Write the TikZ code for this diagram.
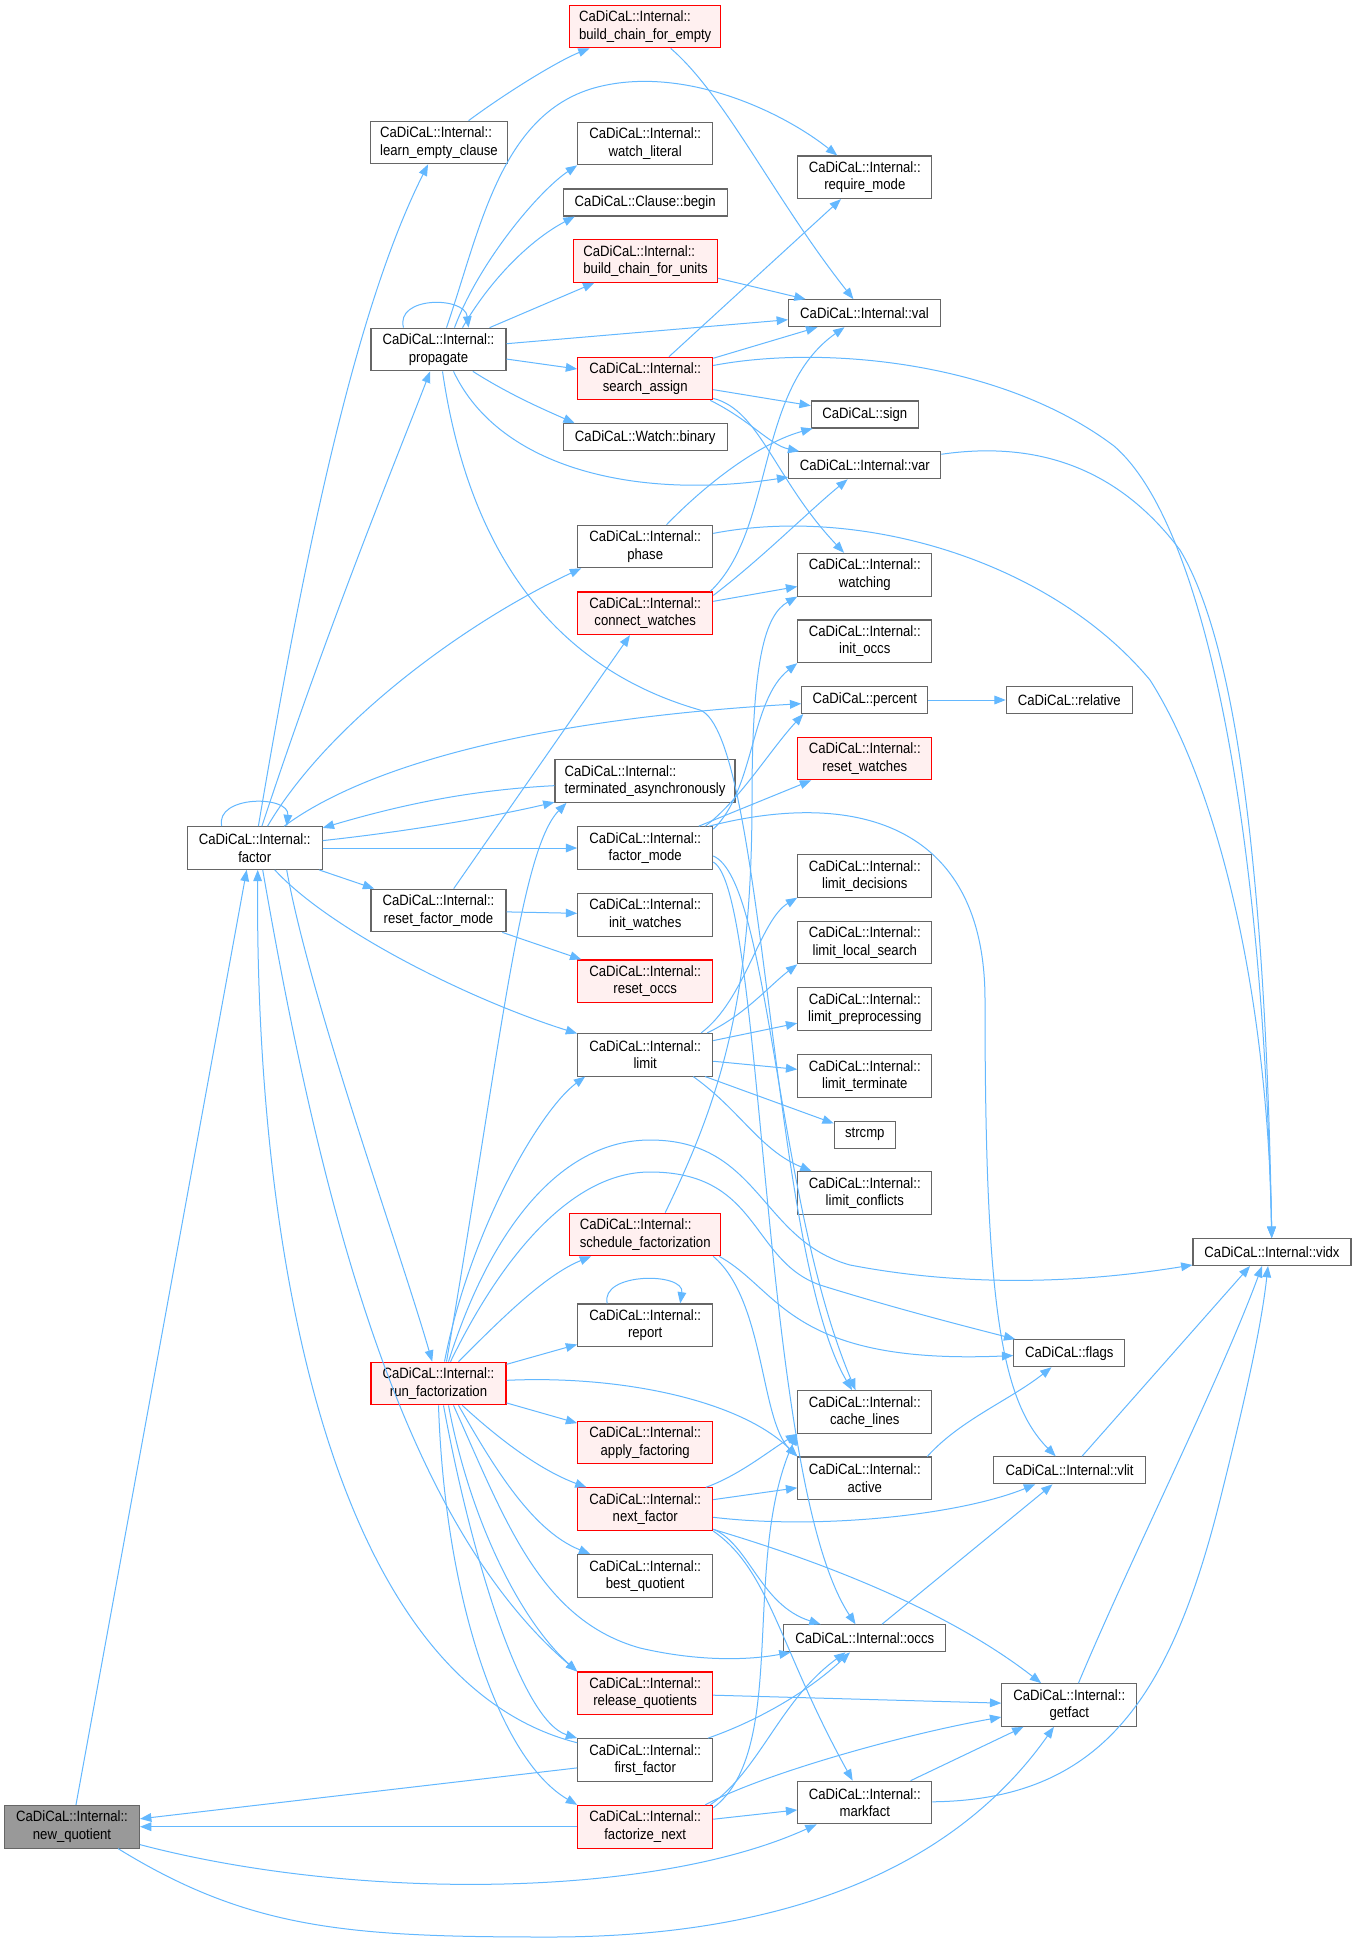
\documentclass[tikz,border=0pt]{standalone}
\usepackage{fontspec}
\setmainfont{Liberation Sans}[FakeStretch=0.88]
\usetikzlibrary{arrows.meta,calc}
\definecolor{edgec}{HTML}{63B8FF}
\definecolor{boxb}{HTML}{666666}
\definecolor{redb}{HTML}{FF0000}
\definecolor{redf}{HTML}{FFF0F0}
\definecolor{greyf}{HTML}{999999}
\tikzset{
  nd/.style={draw=boxb, fill=white, line width=0.8pt, inner sep=0pt, align=center,
    font=\fontsize{11.2}{13}\selectfont, minimum height=32pt},
  one/.style={minimum height=20.25pt},
  rd/.style={draw=redb, fill=redf},
  gy/.style={fill=greyf},
  lft/.style={align=left},
  wd/.style={minimum width=#1*0.75pt},
  ed/.style={draw=edgec, line width=0.75pt, -{Triangle[length=8.5pt,width=6.5pt]}}
}
\begin{document}
\begin{tikzpicture}[x=0.75pt,y=-0.75pt]
\fill[white] (0,0) rectangle (1357,1941);
\useasboundingbox (0,0) rectangle (1357,1941);
% column 1/2
\node[nd,gy,wd=135] (nq) at (72,1826.7) {CaDiCaL::Internal::\\new\_quotient};
\node[nd,wd=135] (fac) at (254.7,848) {CaDiCaL::Internal::\\factor};
\node[nd,lft,wd=137] (lec) at (439,142.5) {CaDiCaL::Internal::\\learn\_empty\_clause};
\node[nd,wd=135] (prop) at (438.5,349.5) {CaDiCaL::Internal::\\propagate};
\node[nd,wd=135] (rfm) at (438.5,910.5) {CaDiCaL::Internal::\\reset\_factor\_mode};
\node[nd,rd,wd=135] (rf) at (438.5,1383.5) {CaDiCaL::Internal::\\run\_factorization};
% column 3
\node[nd,rd,lft,wd=151] (bce) at (645.2,26.5) {CaDiCaL::Internal::\\build\_chain\_for\_empty};
\node[nd,wd=135] (wl) at (645.2,143.5) {CaDiCaL::Internal::\\watch\_literal};
\node[nd,one,wd=164] (cb) at (645.2,202.5) {CaDiCaL::Clause::begin};
\node[nd,rd,lft,wd=144] (bcu) at (645.5,261) {CaDiCaL::Internal::\\build\_chain\_for\_units};
\node[nd,rd,wd=135] (sa) at (645.2,378.5) {CaDiCaL::Internal::\\search\_assign};
\node[nd,one,wd=164] (wb) at (645.2,437.2) {CaDiCaL::Watch::binary};
\node[nd,wd=135] (ph) at (645.2,546.5) {CaDiCaL::Internal::\\phase};
\node[nd,rd,wd=135] (cw) at (645.2,613.3) {CaDiCaL::Internal::\\connect\_watches};
\node[nd,lft,wd=180] (ta) at (645,781) {CaDiCaL::Internal::\\terminated\_asynchronously};
\node[nd,wd=135] (fm) at (645.2,848) {CaDiCaL::Internal::\\factor\_mode};
\node[nd,wd=135] (iw) at (645.2,914.7) {CaDiCaL::Internal::\\init\_watches};
\node[nd,rd,wd=135] (ro) at (645.2,981.3) {CaDiCaL::Internal::\\reset\_occs};
\node[nd,wd=135] (lim) at (645.2,1054.7) {CaDiCaL::Internal::\\limit};
\node[nd,rd,lft,wd=151] (sf) at (645.2,1234.5) {CaDiCaL::Internal::\\schedule\_factorization};
\node[nd,wd=135] (rep) at (645.2,1325.3) {CaDiCaL::Internal::\\report};
\node[nd,rd,wd=135] (af) at (645.2,1442.5) {CaDiCaL::Internal::\\apply\_factoring};
\node[nd,rd,wd=135] (nf) at (645.2,1509.2) {CaDiCaL::Internal::\\next\_factor};
\node[nd,wd=135] (bq) at (645.2,1575.8) {CaDiCaL::Internal::\\best\_quotient};
\node[nd,rd,wd=135] (rq) at (645.2,1693.3) {CaDiCaL::Internal::\\release\_quotients};
\node[nd,wd=135] (ff) at (645.2,1760) {CaDiCaL::Internal::\\first\_factor};
\node[nd,rd,wd=135] (fn) at (645.2,1826.7) {CaDiCaL::Internal::\\factorize\_next};
% column 4
\node[nd,wd=134] (rm) at (864.8,177.3) {CaDiCaL::Internal::\\require\_mode};
\node[nd,one,wd=152] (val) at (864.5,313.2) {CaDiCaL::Internal::val};
\node[nd,one,wd=107] (sign) at (864.8,414.5) {CaDiCaL::sign};
\node[nd,one,wd=152] (var) at (864.8,465.3) {CaDiCaL::Internal::var};
\node[nd,wd=134] (wat) at (864.8,574.7) {CaDiCaL::Internal::\\watching};
\node[nd,wd=134] (io) at (864.8,641.3) {CaDiCaL::Internal::\\init\_occs};
\node[nd,one,wd=126] (pct) at (864.8,700) {CaDiCaL::percent};
\node[nd,rd,wd=134] (rw) at (864.8,758.5) {CaDiCaL::Internal::\\reset\_watches};
\node[nd,wd=134] (ld) at (864.8,875.8) {CaDiCaL::Internal::\\limit\_decisions};
\node[nd,wd=134] (lls) at (864.8,942.5) {CaDiCaL::Internal::\\limit\_local\_search};
\node[nd,wd=134] (lp) at (864.8,1009.2) {CaDiCaL::Internal::\\limit\_preprocessing};
\node[nd,wd=134] (lt) at (864.8,1075.8) {CaDiCaL::Internal::\\limit\_terminate};
\node[nd,one,wd=61] (sc) at (864.8,1134.7) {strcmp};
\node[nd,wd=134] (lc) at (864.8,1193) {CaDiCaL::Internal::\\limit\_conflicts};
\node[nd,wd=134] (cl) at (864.8,1412) {CaDiCaL::Internal::\\cache\_lines};
\node[nd,wd=134] (act) at (864.8,1478.3) {CaDiCaL::Internal::\\active};
\node[nd,one,wd=162] (occs) at (864.8,1638.3) {CaDiCaL::Internal::occs};
\node[nd,wd=134] (mf) at (864.8,1802.5) {CaDiCaL::Internal::\\markfact};
% column 5/6
\node[nd,one,wd=126] (rel) at (1069.3,700) {CaDiCaL::relative};
\node[nd,one,wd=111] (flags) at (1069.3,1353.2) {CaDiCaL::flags};
\node[nd,one,wd=152] (vlit) at (1069.6,1470.3) {CaDiCaL::Internal::vlit};
\node[nd,wd=135] (gf) at (1069.3,1705) {CaDiCaL::Internal::\\getfact};
\node[nd,one,wd=158] (vidx) at (1272,1252) {CaDiCaL::Internal::vidx};

% edges
\draw[ed] (lec) .. controls (510,90) and (560,60) .. (bce);
\draw[ed] (bce) .. controls (725,95) and (775,200) .. (val);
\draw[ed] (fac) .. controls (310,520) and (360,300) .. (lec);
\draw[ed] (fac) .. controls (330,620) and (400,450) .. (prop);
\draw[ed] (fac) .. controls (330,720) and (470,620) .. ($(ph.south west)+(4,0)$);
\draw[ed] (fac) .. controls (360,770) and (520,720) .. (pct);
\draw[ed] (fac) .. controls (420,830) and (500,815) .. (ta);
\draw[ed] (ta) .. controls (470,790) and (400,805) .. (fac);
\draw[ed] (fac) -- (fm);
\draw[ed] (fac) -- (rfm);
\draw[ed] (fac) .. controls (330,930) and (470,1000) .. (lim);
\draw[ed] ($(fac.south)+(32,0)$) .. controls (310,1000) and (400,1250) .. (rf);
\draw[ed] ($(fac.north)+(-33,0)$) .. controls (215,795) and (290,795) .. ($(fac.north)+(32,0)$);
\draw[ed] ($(fac.south)+(8,0)$) .. controls (320,1200) and (400,1520) .. (rq.north west);

\draw[ed] ($(prop.north)+(-35,0)$) .. controls (395,296) and (465,296) .. ($(prop.north)+(30,0)$);
\draw[ed] ($(prop.north)+(8,0)$) .. controls (480,230) and (500,115) .. (594,88) .. controls (680,64) and (780,110) .. (rm);
\draw[ed] ($(prop.north)+(16,0)$) .. controls (480,260) and (540,190) .. (wl.south west);
\draw[ed] ($(prop.north)+(24,0)$) .. controls (490,280) and (530,240) .. ($(cb.south west)+(12,0)$);
\draw[ed] (prop) -- (bcu);
\draw[ed] (prop) -- (val);
\draw[ed] (prop) -- (sa);
\draw[ed] (prop) .. controls (510,395) and (545,410) .. ($(wb.north west)+(12,0)$);
\draw[ed] ($(prop.south)+(15,0)$) .. controls (500,470) and (640,500) .. (var);
\draw[ed] ($(prop.south)+(4,0)$) .. controls (470,560) and (560,670) .. (700,710) .. controls (765,735) and (770,1250) .. (cl);

\draw[ed] (sa) -- (rm);
\draw[ed] (sa) -- (val);
\draw[ed] (sa) .. controls (820,345) and (1000,360) .. (1114,446) .. controls (1200,520) and (1262,800) .. (vidx);
\draw[ed] (sa) -- (sign);
\draw[ed] ($(sa.south east)+(-3,0)$) .. controls (750,420) and (770,445) .. (var);
\draw[ed] ($(sa.south east)+(0,-2)$) .. controls (760,410) and (775,480) .. (wat);
\draw[ed] (bcu) -- (val);
\draw[ed] (var) .. controls (1040,440) and (1120,470) .. (1180,550) .. controls (1240,650) and (1266,900) .. (vidx);
\draw[ed] (ph) .. controls (720,470) and (770,440) .. (sign);
\draw[ed] (ph) .. controls (860,505) and (1050,560) .. (1150,680) .. controls (1220,790) and (1268,1000) .. (vidx);
\draw[ed] ($(cw.north east)+(-3,0)$) .. controls (775,530) and (755,390) .. (val);
\draw[ed] ($(cw.north east)+(0,4)$) .. controls (760,560) and (810,510) .. (var);
\draw[ed] (cw) -- (wat);

\draw[ed] (rfm) -- (cw);
\draw[ed] (rfm) -- (iw);
\draw[ed] (rfm) -- (ro);

\draw[ed] ($(fm.north east)+(-8,0)$) .. controls (740,800) and (770,750) .. ($(pct.south west)+(2,0)$);
\draw[ed] ($(fm.north east)+(0,3)$) .. controls (755,790) and (750,700) .. (io.south west);
\draw[ed] (fm) -- (rw);
\draw[ed] ($(fm.east)+(0,8)$) .. controls (770,880) and (775,1200) .. (cl);
\draw[ed] ($(fm.east)+(0,14)$) .. controls (765,890) and (760,1480) .. (occs);
\draw[ed] ($(fm.north east)+(-4,0)$) .. controls (850,790) and (985,820) .. (985,1000) .. controls (985,1300) and (1000,1400) .. (vlit);
\draw[ed] (pct) -- (rel);

\draw[ed] ($(lim.north east)+(-12,0)$) .. controls (745,1000) and (760,920) .. (ld.south west);
\draw[ed] ($(lim.north east)+(-6,0)$) .. controls (745,1015) and (770,985) .. (lls.south west);
\draw[ed] (lim) -- (lp);
\draw[ed] (lim) -- (lt);
\draw[ed] (lim) -- (sc);
\draw[ed] ($(lim.south east)+(-20,0)$) .. controls (740,1110) and (760,1150) .. (lc);

\draw[ed] ($(sf.north)+(20,0)$) .. controls (720,1100) and (752,1000) .. (752,800) .. controls (752,660) and (765,615) .. (wat.south west);
\draw[ed] ($(sf.south east)+(-2,0)$) .. controls (780,1290) and (790,1365) .. (flags);
\draw[ed] ($(sf.south east)+(-8,0)$) .. controls (765,1300) and (760,1420) .. (act.north west);

\draw[ed] ($(rf.north)+(8,0)$) .. controls (500,1050) and (520,850) .. ($(ta.south west)+(12,0)$);
\draw[ed] ($(rf.north)+(6,0)$) .. controls (470,1230) and (540,1110) .. ($(lim.south west)+(8,0)$);
\draw[ed] ($(rf.north)+(10,0)$) .. controls (490,1230) and (560,1140) .. (650,1140) .. controls (760,1140) and (760,1240) .. (850,1265) .. controls (980,1290) and (1100,1280) .. (vidx);
\draw[ed] ($(rf.north)+(12,0)$) .. controls (500,1260) and (570,1172) .. (650,1172) .. controls (760,1172) and (750,1260) .. (820,1285) .. controls (900,1310) and (980,1330) .. (flags);
\draw[ed] ($(rf.north)+(20,0)$) .. controls (500,1320) and (545,1275) .. (sf);
\draw[ed] (rf) -- (rep);
\draw[ed] (rf) .. controls (620,1375) and (740,1400) .. (act.north west);
\draw[ed] (rf) -- (af);
\draw[ed] (rf) .. controls (500,1440) and (540,1470) .. (nf);
\draw[ed] ($(rf.south)+(20,0)$) .. controls (490,1460) and (530,1530) .. (bq);
\draw[ed] ($(rf.south)+(15,0)$) .. controls (505,1520) and (540,1620) .. (640,1648) .. controls (700,1662) and (750,1660) .. (occs);
\draw[ed] ($(rf.south)+(10,0)$) .. controls (470,1520) and (520,1620) .. (rq.north west);
\draw[ed] ($(rf.south)+(5,0)$) .. controls (470,1550) and (520,1720) .. (ff.north west);
\draw[ed] (rf.south) .. controls (445,1600) and (500,1760) .. (fn.north west);

\draw[ed] (ff) .. controls (330,1680) and (255,1250) .. ($(fac.south)+(3,0)$);
\draw[ed] (nq) -- ($(fac.south)+(-8,0)$);
\draw[ed] (ff) -- (nq);
\draw[ed] (fn) -- (nq);
\draw[ed] (nq) .. controls (350,1900) and (650,1900) .. (mf);
\draw[ed] ($(nq.south east)+(-22,0)$) .. controls (250,1930) and (350,1937) .. (550,1937) .. controls (800,1937) and (960,1860) .. (gf);

\draw[ed] (nf) .. controls (740,1475) and (770,1450) .. (cl.south west);
\draw[ed] (nf) -- (act);
\draw[ed] (nf) .. controls (820,1530) and (960,1515) .. (vlit);
\draw[ed] (nf) .. controls (850,1570) and (960,1620) .. (gf);
\draw[ed] ($(nf.south east)+(0,-2)$) .. controls (750,1545) and (760,1605) .. (occs);
\draw[ed] (nf.south east) .. controls (770,1570) and (780,1650) .. (mf);
\draw[ed] (rq) -- (gf);
\draw[ed] (ff) .. controls (760,1720) and (810,1690) .. (occs);
\draw[ed] ($(fn.north east)+(-3,0)$) .. controls (760,1770) and (780,1700) .. (occs);
\draw[ed] ($(fn.north east)+(0,3)$) .. controls (790,1750) and (740,1560) .. (cl.south west);
\draw[ed] ($(fn.north east)+(-8,0)$) .. controls (760,1775) and (900,1735) .. (gf);
\draw[ed] (fn) -- (mf);
\draw[ed] (mf) -- (gf);
\draw[ed] (mf) .. controls (1100,1800) and (1170,1700) .. (1220,1500) .. controls (1250,1380) and (1262,1320) .. ($(vidx.south)+(-4,0)$);
\draw[ed] (gf) .. controls (1130,1560) and (1220,1380) .. ($(vidx.south)+(-10,0)$);
\draw[ed] (vlit) -- ($(vidx.south)+(-22,0)$);
\draw[ed] (occs) -- (vlit);
\draw[ed] ($(act.north east)+(-5,0)$) .. controls (960,1420) and (1010,1400) .. (flags);
\draw[ed] ($(rep.north)+(-38,0)$) .. controls (600,1272) and (685,1272) .. ($(rep.north)+(35,0)$);
\end{tikzpicture}
\end{document}
